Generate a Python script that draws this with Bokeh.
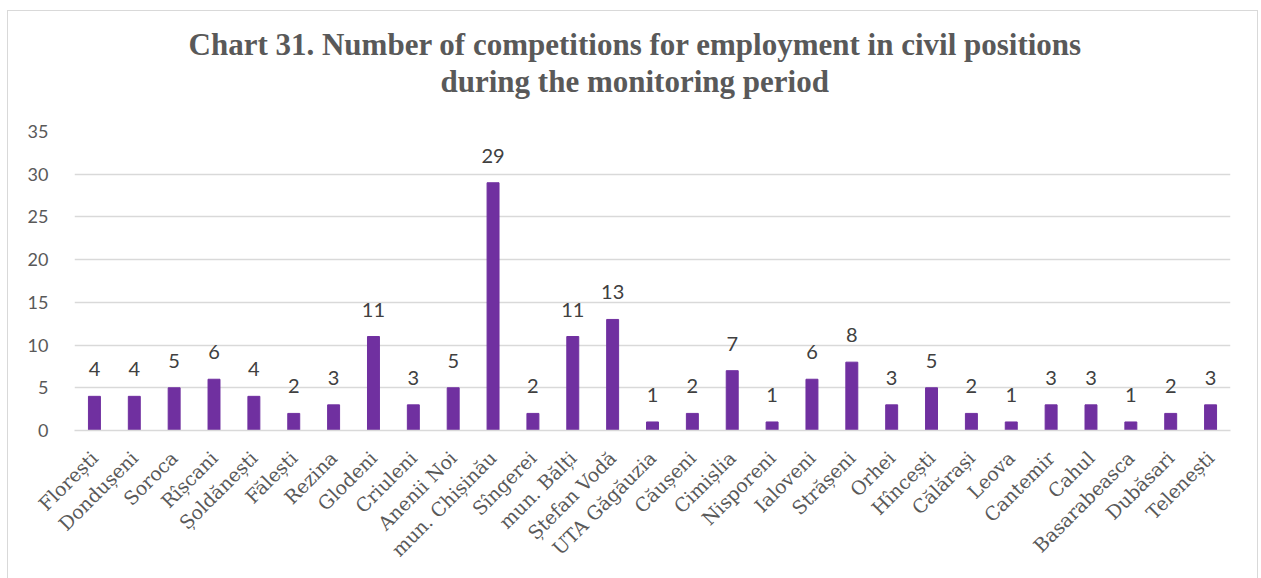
import math
from bokeh.plotting import figure
from bokeh.models import ColumnDataSource, FactorRange, Range1d, FixedTicker, Title
from bokeh.core.properties import value
from bokeh.embed import file_html
from bokeh.resources import INLINE

categories = ["Florești", "Dondușeni", "Soroca", "Rîșcani", "Șoldănești", "Fălești",
              "Rezina", "Glodeni", "Criuleni", "Anenii Noi", "mun. Chișinău", "Sîngerei",
              "mun. Bălți", "Ștefan Vodă", "UTA Găgăuzia", "Căușeni", "Cimișlia",
              "Nisporeni", "Ialoveni", "Strășeni", "Orhei", "Hîncești", "Călărași",
              "Leova", "Cantemir", "Cahul", "Basarabeasca", "Dubăsari", "Telenești"]
counts = [4, 4, 5, 6, 4, 2, 3, 11, 3, 5, 29, 2, 11, 13, 1, 2, 7, 1, 6, 8, 3, 5, 2, 1,
          3, 3, 1, 2, 3]
y_ticks = [0, 5, 10, 15, 20, 25, 30, 35]
title_line1 = "Chart 31. Number of competitions for employment in civil positions"
title_line2 = "during the monitoring period"

src = ColumnDataSource(dict(cat=categories, val=counts, lab=[str(v) for v in counts]))

p = figure(x_range=FactorRange(*categories), y_range=Range1d(0, 35),
           width=1251, height=568, output_backend="svg", toolbar_location=None,
           min_border_left=66, min_border_right=29, min_border_top=120,
           min_border_bottom=149, title=title_line1)
p.margin = (10, 3, 0, 7)
p.styles = {"border-left": "1px solid #d9d9d9", "border-top": "1px solid #d9d9d9",
            "border-right": "1px solid #d9d9d9"}
p.outline_line_color = None

def style_title(t, offset):
    t.align = "left"
    t.offset = offset
    t.standoff = 0
    t.text_font = "Liberation Serif"
    t.text_font_size = "31px"
    t.text_font_style = "bold"
    t.text_color = "#595959"
    t.text_line_height = 1.1

# outermost: first title line
style_title(p.title, 114)

# spacer closest to the frame, then second title line
spacer = Title(text=" ", text_font_size="1px", standoff=30)
p.add_layout(spacer, "above")
t2 = Title(text=title_line2)
style_title(t2, 366)
p.add_layout(t2, "above")

p.vbar(x="cat", top="val", width=0.3, source=src, color="#7030A0")
p.text(x="cat", y="val", text="lab", source=src, text_align="center",
       text_baseline="alphabetic", y_offset=-27, text_font=value("Lato"),
       text_font_size="20px", text_color="#404040")

p.xgrid.grid_line_color = None
p.ygrid.grid_line_color = "#d9d9d9"
p.ygrid.grid_line_width = 1.5

p.yaxis.ticker = FixedTicker(ticks=y_ticks)
p.yaxis.axis_line_color = None
p.yaxis.major_tick_line_color = None
p.yaxis.minor_tick_line_color = None
p.yaxis.major_label_text_font = "Lato"
p.yaxis.major_label_text_font_size = "18px"
p.yaxis.major_label_text_color = "#595959"
p.yaxis.major_label_standoff = 20

p.xaxis.axis_line_color = "#d9d9d9"
p.xaxis.axis_line_width = 1.5
p.xaxis.major_tick_line_color = None
p.xaxis.minor_tick_line_color = None
p.xaxis.major_label_orientation = math.pi / 4
p.xaxis.major_label_text_font = "DejaVu Serif"
p.xaxis.major_label_text_font_size = "19px"
p.xaxis.major_label_text_color = "#595959"
p.xaxis.major_label_standoff = 18

open("out.html", "w").write(file_html(p, INLINE))
